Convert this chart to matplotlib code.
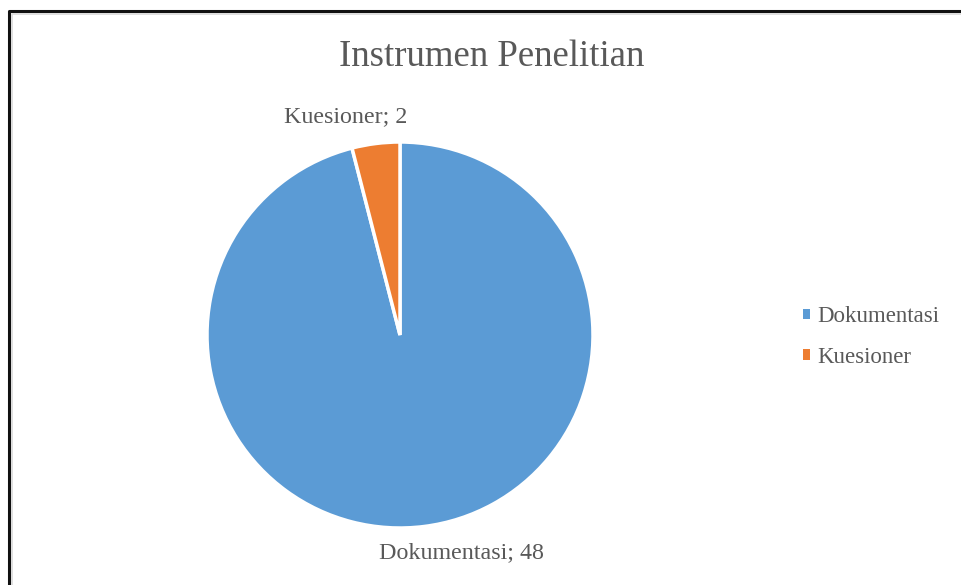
import matplotlib.pyplot as plt
from matplotlib.patches import Patch
from matplotlib.lines import Line2D

kategori = ["Dokumentasi", "Kuesioner"]
jumlah = [48, 2]
warna = ["#5B9BD5", "#ED7D31"]
judul = "Instrumen Penelitian"

W, H = 961, 585
plt.rcParams['font.family'] = ['Liberation Serif', 'DejaVu Serif']
teks_warna = "#595959"

fig = plt.figure(figsize=(W / 100, H / 100), dpi=100)
fig.patch.set_facecolor("white")

# bingkai kiri dan atas
fig.add_artist(Line2D([9 / W, 9 / W, 1], [0, 1 - 11 / H, 1 - 11 / H],
                      color="#111111", lw=2.2, transform=fig.transFigure))
fig.add_artist(Line2D([11.5 / W, 11.5 / W, 1], [0, 1 - 13.5 / H, 1 - 13.5 / H],
                      color="#d9d9d9", lw=1.2, transform=fig.transFigure))

# pie: pusat (400, 335), jari-jari 193 px
r = 193
cx, cy = 400, 335
ax = fig.add_axes([(cx - r) / W, (H - cy - r) / H, 2 * r / W, 2 * r / H])
ax.pie(jumlah, colors=warna, startangle=90, counterclock=False,
       wedgeprops=dict(edgecolor="white", linewidth=2.5))
ax.set_xlim(-1, 1)
ax.set_ylim(-1, 1)
ax.set_aspect("equal")
ax.axis("off")

ax.text(-0.28, 1.13, f"{kategori[1]}; {jumlah[1]}", ha="center", va="center",
        fontsize=17.3, color=teks_warna, clip_on=False)
ax.text(0.316, -1.13, f"{kategori[0]}; {jumlah[0]}", ha="center", va="center",
        fontsize=17.3, color=teks_warna, clip_on=False)

fig.text(492 / W, 1 - 57 / H, judul, ha="center", va="center",
         fontsize=26.5, color=teks_warna)

handles = [Patch(facecolor=c, edgecolor="none") for c in warna]
fig.legend(handles, kategori, loc="center left",
           bbox_to_anchor=(803 / W, 1 - 337 / H), frameon=False,
           fontsize=16.5, labelcolor=teks_warna,
           handlelength=0.32, handleheight=0.32, handletextpad=0.3,
           labelspacing=0.85, borderpad=0, borderaxespad=0)

fig.savefig("out.png", dpi=100, facecolor="white")
